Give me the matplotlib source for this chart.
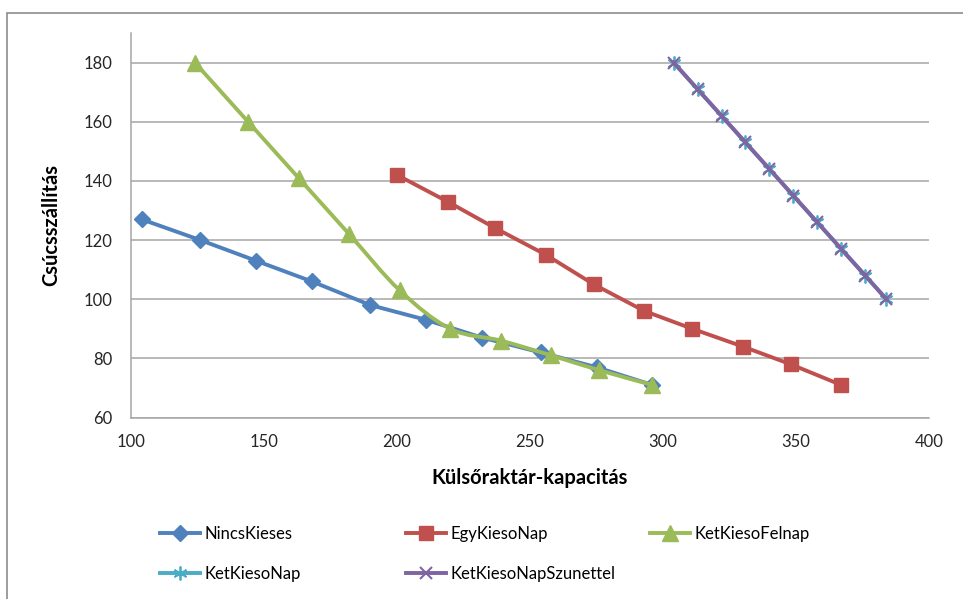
import matplotlib.pyplot as plt
from matplotlib.patches import Rectangle, PathPatch
from matplotlib.path import Path
from matplotlib.lines import Line2D

plt.rcParams['font.family'] = ['Lato', 'DejaVu Sans']

# Csúcsszállítás a külsőraktár-kapacitás függvényében
nincs_x = [104, 126, 147, 168, 190, 211, 232, 254, 275, 296]
nincs_y = [127, 120, 113, 106, 98, 93, 87, 82, 77, 71]

egy_x = [200, 219, 237, 256, 274, 293, 311, 330, 348, 367]
egy_y = [142, 133, 124, 115, 105, 96, 90, 84, 78, 71]

felnap_x = [124, 144, 163, 182, 201, 220, 239, 258, 276, 296]
felnap_y = [180, 160, 141, 122, 103, 90, 86, 81, 76, 71]

ketnap_x = [304, 313, 322, 331, 340, 349, 358, 367, 376, 384]
ketnap_y = [180, 171, 162, 153, 144, 135, 126, 117, 108, 100]

szun_x = [304, 313, 322, 331, 340, 349, 358, 367, 376, 384]
szun_y = [180, 171, 162, 153, 144, 135, 126, 117, 108, 100]

x_ticks = [100, 150, 200, 250, 300, 350, 400]
y_ticks = [60, 80, 100, 120, 140, 160, 180]


def smooth_path(xs, ys):
    # simított vonal: Bezier-szakaszok a pontokon át (Catmull-Rom)
    pts = list(zip(xs, ys))
    n = len(pts)
    verts = [pts[0]]
    codes = [Path.MOVETO]
    for i in range(n - 1):
        p0 = pts[max(i - 1, 0)]
        p1 = pts[i]
        p2 = pts[i + 1]
        p3 = pts[min(i + 2, n - 1)]
        c1 = (p1[0] + (p2[0] - p0[0]) / 6, p1[1] + (p2[1] - p0[1]) / 6)
        c2 = (p2[0] - (p3[0] - p1[0]) / 6, p2[1] - (p3[1] - p1[1]) / 6)
        verts += [c1, c2, p2]
        codes += [Path.CURVE4] * 3
    return Path(verts, codes)


fig = plt.figure(figsize=(9.63, 5.99), dpi=100)
fig.patches.append(Rectangle((7 / 963, -0.1), 1.2, 1 - 13 / 599 + 0.1,
                             transform=fig.transFigure, fill=False,
                             edgecolor='#8c8c8c', linewidth=1.2))

ax = fig.add_axes([131 / 963, (599 - 417.5) / 599, 798 / 963, 384.5 / 599])

lw = 2.8
blue, red, green, cyan, purple = '#4F81BD', '#C0504D', '#9BBB59', '#4BACC6', '#8064A2'

l1, = ax.plot(nincs_x, nincs_y, color=blue, lw=lw, marker='D', ms=8,
              label='NincsKieses')
l2, = ax.plot(egy_x, egy_y, color=red, lw=lw, marker='s', ms=10,
              label='EgyKiesoNap')
ax.add_patch(PathPatch(smooth_path(felnap_x, felnap_y), fill=False,
                       edgecolor=green, lw=lw, capstyle='round',
                       joinstyle='round', zorder=2))
ax.plot(felnap_x, felnap_y, ls='none', color=green, marker='^', ms=11,
        zorder=2.1)
l3 = Line2D([], [], color=green, lw=lw, marker='^', ms=11,
            label='KetKiesoFelnap')
l4, = ax.plot(ketnap_x, ketnap_y, color=cyan, lw=lw, marker=(6, 2, 0),
              ms=10, mew=1.3, label='KetKiesoNap')
l5, = ax.plot(szun_x, szun_y, color=purple, lw=lw, marker='x', ms=9,
              mew=1.5, label='KetKiesoNapSzunettel')

ax.set_xlim(100, 400)
ax.set_ylim(60, 190)
ax.set_xticks(x_ticks)
ax.set_yticks(y_ticks)
ax.tick_params(length=0, labelsize=12, colors='#262626')
ax.tick_params(axis='x', pad=12)
ax.tick_params(axis='y', pad=13.5)
ax.grid(axis='y', color='#a6a6a6', lw=1.1)
ax.set_axisbelow(True)
for s in ['top', 'right']:
    ax.spines[s].set_visible(False)
for s in ['left', 'bottom']:
    ax.spines[s].set_color('#a6a6a6')
    ax.spines[s].set_linewidth(1.1)

ax.set_xlabel('Külsőraktár-kapacitás', fontsize=14.5, fontweight='bold',
              labelpad=13)
ax.set_ylabel('Csúcsszállítás', fontsize=14.5, fontweight='bold', labelpad=16)

# jelmagyarázat három egyforma széles oszlopban
columns = [[l1, l4], [l2, l5], [l3]]
col_x = [160, 406, 650]
for handles, x in zip(columns, col_x):
    fig.legend(handles, [h.get_label() for h in handles], loc='upper left',
               bbox_to_anchor=(x / 963, 1 - 526 / 599), frameon=False,
               fontsize=12, handlelength=2.4, handletextpad=0.25,
               labelspacing=1.44, borderpad=0, borderaxespad=0)

fig.savefig('out.png', dpi=100)
